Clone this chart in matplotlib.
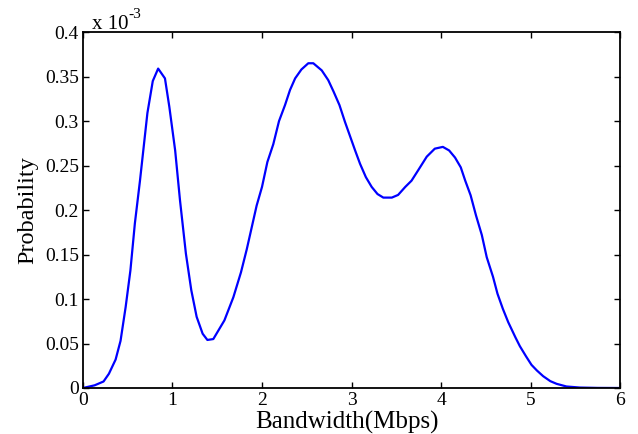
import matplotlib
matplotlib.use("Agg")
import matplotlib.pyplot as plt

# Estimated bandwidth probability density (values in units of 1e-3)
bandwidth = [0.0, 0.13, 0.23, 0.29, 0.365, 0.42, 0.477, 0.53, 0.58, 0.637, 0.72, 0.78,
             0.84, 0.916, 0.965, 1.03, 1.084, 1.15, 1.21, 1.27, 1.337, 1.39, 1.456,
             1.58, 1.68, 1.765, 1.83, 1.94, 2.0, 2.06, 2.126, 2.19, 2.257, 2.313,
             2.37, 2.44, 2.517, 2.573, 2.667, 2.74, 2.80, 2.865, 2.927, 2.98, 3.04,
             3.095, 3.16, 3.225, 3.29, 3.355, 3.45, 3.52, 3.6, 3.67, 3.746, 3.84,
             3.93, 4.02, 4.09, 4.156, 4.22, 4.27, 4.33, 4.39, 4.455, 4.51, 4.58,
             4.63, 4.69, 4.75, 4.83, 4.88, 4.95, 5.01, 5.07, 5.14, 5.22, 5.29, 5.4,
             5.55, 5.75, 6.0]
probability = [0.0, 0.003, 0.0073, 0.016, 0.032, 0.053, 0.091, 0.132, 0.185, 0.233,
               0.309, 0.345, 0.359, 0.348, 0.316, 0.267, 0.211, 0.151, 0.110, 0.080,
               0.061, 0.054, 0.055, 0.076, 0.102, 0.130, 0.156, 0.205, 0.226, 0.254,
               0.274, 0.300, 0.318, 0.335, 0.348, 0.358, 0.365, 0.365, 0.357, 0.346,
               0.333, 0.318, 0.299, 0.284, 0.267, 0.252, 0.237, 0.226, 0.218, 0.214,
               0.214, 0.217, 0.226, 0.233, 0.245, 0.260, 0.269, 0.271, 0.267, 0.259,
               0.248, 0.233, 0.2166, 0.194, 0.172, 0.147, 0.125, 0.106, 0.089, 0.074,
               0.057, 0.047, 0.0354, 0.026, 0.0197, 0.0133, 0.0077, 0.0047, 0.0017,
               0.0005, 0.0001, 0.0]

x_ticks = [0, 1, 2, 3, 4, 5, 6]
y_ticks = [0, 0.05, 0.1, 0.15, 0.2, 0.25, 0.3, 0.35, 0.4]
y_tick_labels = ["0", "0.05", "0.1", "0.15", "0.2", "0.25", "0.3", "0.35", "0.4"]

plt.rcParams["font.family"] = ["Liberation Serif", "DejaVu Serif"]

fig = plt.figure(figsize=(6.38, 4.34), dpi=100)
ax = fig.add_axes([0.130, 0.106, 0.842, 0.820])

ax.plot(bandwidth, probability, color="#0000ff", linewidth=1.6)

ax.set_xlim(0, 6)
ax.set_ylim(0, 0.4)
ax.set_xticks(x_ticks)
ax.set_xticklabels([str(t) for t in x_ticks])
ax.set_yticks(y_ticks)
ax.set_yticklabels(y_tick_labels)

ax.tick_params(direction="in", length=4, width=1.0, top=True, right=True,
               labelsize=14, pad=3, colors="black")
for s in ax.spines.values():
    s.set_linewidth(1.3)

ax.set_xlabel("Bandwidth(Mbps)", fontsize=18, labelpad=1, x=0.492)
ax.set_ylabel("Probability", fontsize=17.5, labelpad=5)

# Scale factor shown above the y axis
ax.text(0.017, 1.008, "x 10", transform=ax.transAxes, fontsize=15,
        ha="left", va="baseline")
ax.text(0.085, 1.040, "-3", transform=ax.transAxes, fontsize=11,
        ha="left", va="baseline")

fig.savefig("out.png", dpi=100)
